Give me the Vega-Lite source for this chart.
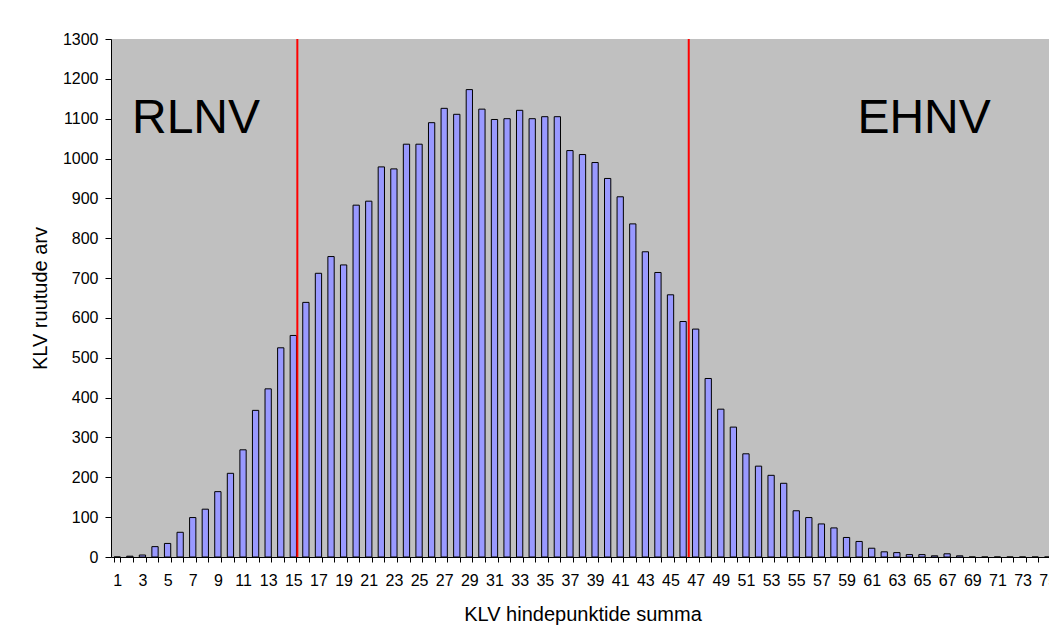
{
  "$schema": "https://vega.github.io/schema/vega-lite/v6.json",
  "autosize": {"type": "none"},
  "padding": {"left": 111, "top": 39, "right": 0, "bottom": 76},
  "width": 943,
  "height": 518,
  "background": "#FFFFFF",
  "config": {
    "view": {"fill": "#C0C0C0", "stroke": null},
    "font": "Liberation Sans",
    "axis": {
      "labelFont": "Liberation Sans",
      "titleFont": "Liberation Sans",
      "labelColor": "#000000",
      "titleColor": "#000000",
      "domainColor": "#000000",
      "tickColor": "#000000",
      "labelFontSize": 16,
      "titleFontSize": 20,
      "titleFontWeight": "normal",
      "grid": false
    },
    "axisY": {
      "values": [0, 100, 200, 300, 400, 500, 600, 700, 800, 900, 1000, 1100, 1200, 1300],
      "format": "d",
      "labelOverlap": false,
      "labelFlush": false,
      "tickSize": 6,
      "labelPadding": 7,
      "titlePadding": 12
    }
  },
  "datasets": {
    "bars": [
      {"k": 1, "n": 0}, {"k": 2, "n": 2}, {"k": 3, "n": 5}, {"k": 4, "n": 26}, {"k": 5, "n": 34},
      {"k": 6, "n": 62}, {"k": 7, "n": 99}, {"k": 8, "n": 120}, {"k": 9, "n": 164}, {"k": 10, "n": 210},
      {"k": 11, "n": 269}, {"k": 12, "n": 368}, {"k": 13, "n": 422}, {"k": 14, "n": 525}, {"k": 15, "n": 556},
      {"k": 16, "n": 639}, {"k": 17, "n": 712}, {"k": 18, "n": 754}, {"k": 19, "n": 733}, {"k": 20, "n": 883},
      {"k": 21, "n": 893}, {"k": 22, "n": 979}, {"k": 23, "n": 974}, {"k": 24, "n": 1036}, {"k": 25, "n": 1036},
      {"k": 26, "n": 1090}, {"k": 27, "n": 1126}, {"k": 28, "n": 1111}, {"k": 29, "n": 1173}, {"k": 30, "n": 1124},
      {"k": 31, "n": 1098}, {"k": 32, "n": 1100}, {"k": 33, "n": 1121}, {"k": 34, "n": 1100}, {"k": 35, "n": 1105},
      {"k": 36, "n": 1105}, {"k": 37, "n": 1020}, {"k": 38, "n": 1010}, {"k": 39, "n": 990}, {"k": 40, "n": 950},
      {"k": 41, "n": 904}, {"k": 42, "n": 836}, {"k": 43, "n": 766}, {"k": 44, "n": 714}, {"k": 45, "n": 658},
      {"k": 46, "n": 591}, {"k": 47, "n": 572}, {"k": 48, "n": 448}, {"k": 49, "n": 371}, {"k": 50, "n": 326},
      {"k": 51, "n": 259}, {"k": 52, "n": 228}, {"k": 53, "n": 205}, {"k": 54, "n": 185}, {"k": 55, "n": 116},
      {"k": 56, "n": 99}, {"k": 57, "n": 83}, {"k": 58, "n": 73}, {"k": 59, "n": 49}, {"k": 60, "n": 39},
      {"k": 61, "n": 22}, {"k": 62, "n": 13}, {"k": 63, "n": 11}, {"k": 64, "n": 6}, {"k": 65, "n": 6},
      {"k": 66, "n": 3}, {"k": 67, "n": 8}, {"k": 68, "n": 3}, {"k": 69, "n": 0}, {"k": 70, "n": 0},
      {"k": 71, "n": 0}, {"k": 72, "n": 0}, {"k": 73, "n": 0}, {"k": 74, "n": 0}, {"k": 75, "n": 0}
    ],
    "limits": [{"x": 15.32}, {"x": 46.45}],
    "left_label": [{"x": 2.17, "n": 1063, "t": "RLNV"}],
    "right_label": [{"x": 70.47, "n": 1065, "t": "EHNV"}]
  },
  "resolve": {"scale": {"x": "independent"}, "axis": {"x": "independent"}},
  "layer": [
    {
      "data": {"name": "bars"},
      "mark": {"type": "bar", "fill": "#9999FF", "stroke": "#000000", "strokeWidth": 1},
      "encoding": {
        "x": {
          "field": "k", "type": "ordinal", "sort": "ascending",
          "scale": {"paddingInner": 0.5, "paddingOuter": 0.25},
          "axis": {
            "title": "KLV hindepunktide summa",
            "labelAngle": 0,
            "labelExpr": "datum.value % 2 == 1 ? datum.label : ''",
            "labelOverlap": false,
            "tickBand": "extent",
            "tickSize": 5,
            "labelPadding": 10,
            "titlePadding": 16
          }
        },
        "y": {
          "field": "n", "type": "quantitative",
          "scale": {"domain": [0, 1300], "nice": false},
          "axis": {"title": "KLV ruutude arv"}
        }
      }
    },
    {
      "data": {"name": "limits"},
      "mark": {"type": "rule", "color": "#FF0000", "strokeWidth": 2},
      "encoding": {
        "x": {"field": "x", "type": "quantitative", "scale": {"domain": [0.5, 75.5], "nice": false, "zero": false}, "axis": null}
      }
    },
    {
      "data": {"name": "left_label"},
      "mark": {"type": "text", "font": "Liberation Sans", "fontSize": 48, "baseline": "alphabetic", "align": "left", "color": "#000000"},
      "encoding": {
        "x": {"field": "x", "type": "quantitative", "scale": {"domain": [0.5, 75.5], "nice": false, "zero": false}, "axis": null},
        "y": {"field": "n", "type": "quantitative", "scale": {"domain": [0, 1300], "nice": false}, "axis": {"title": "KLV ruutude arv"}},
        "text": {"field": "t"}
      }
    },
    {
      "data": {"name": "right_label"},
      "mark": {"type": "text", "font": "Liberation Sans", "fontSize": 48, "baseline": "alphabetic", "align": "right", "color": "#000000"},
      "encoding": {
        "x": {"field": "x", "type": "quantitative", "scale": {"domain": [0.5, 75.5], "nice": false, "zero": false}, "axis": null},
        "y": {"field": "n", "type": "quantitative", "scale": {"domain": [0, 1300], "nice": false}, "axis": {"title": "KLV ruutude arv"}},
        "text": {"field": "t"}
      }
    }
  ]
}
